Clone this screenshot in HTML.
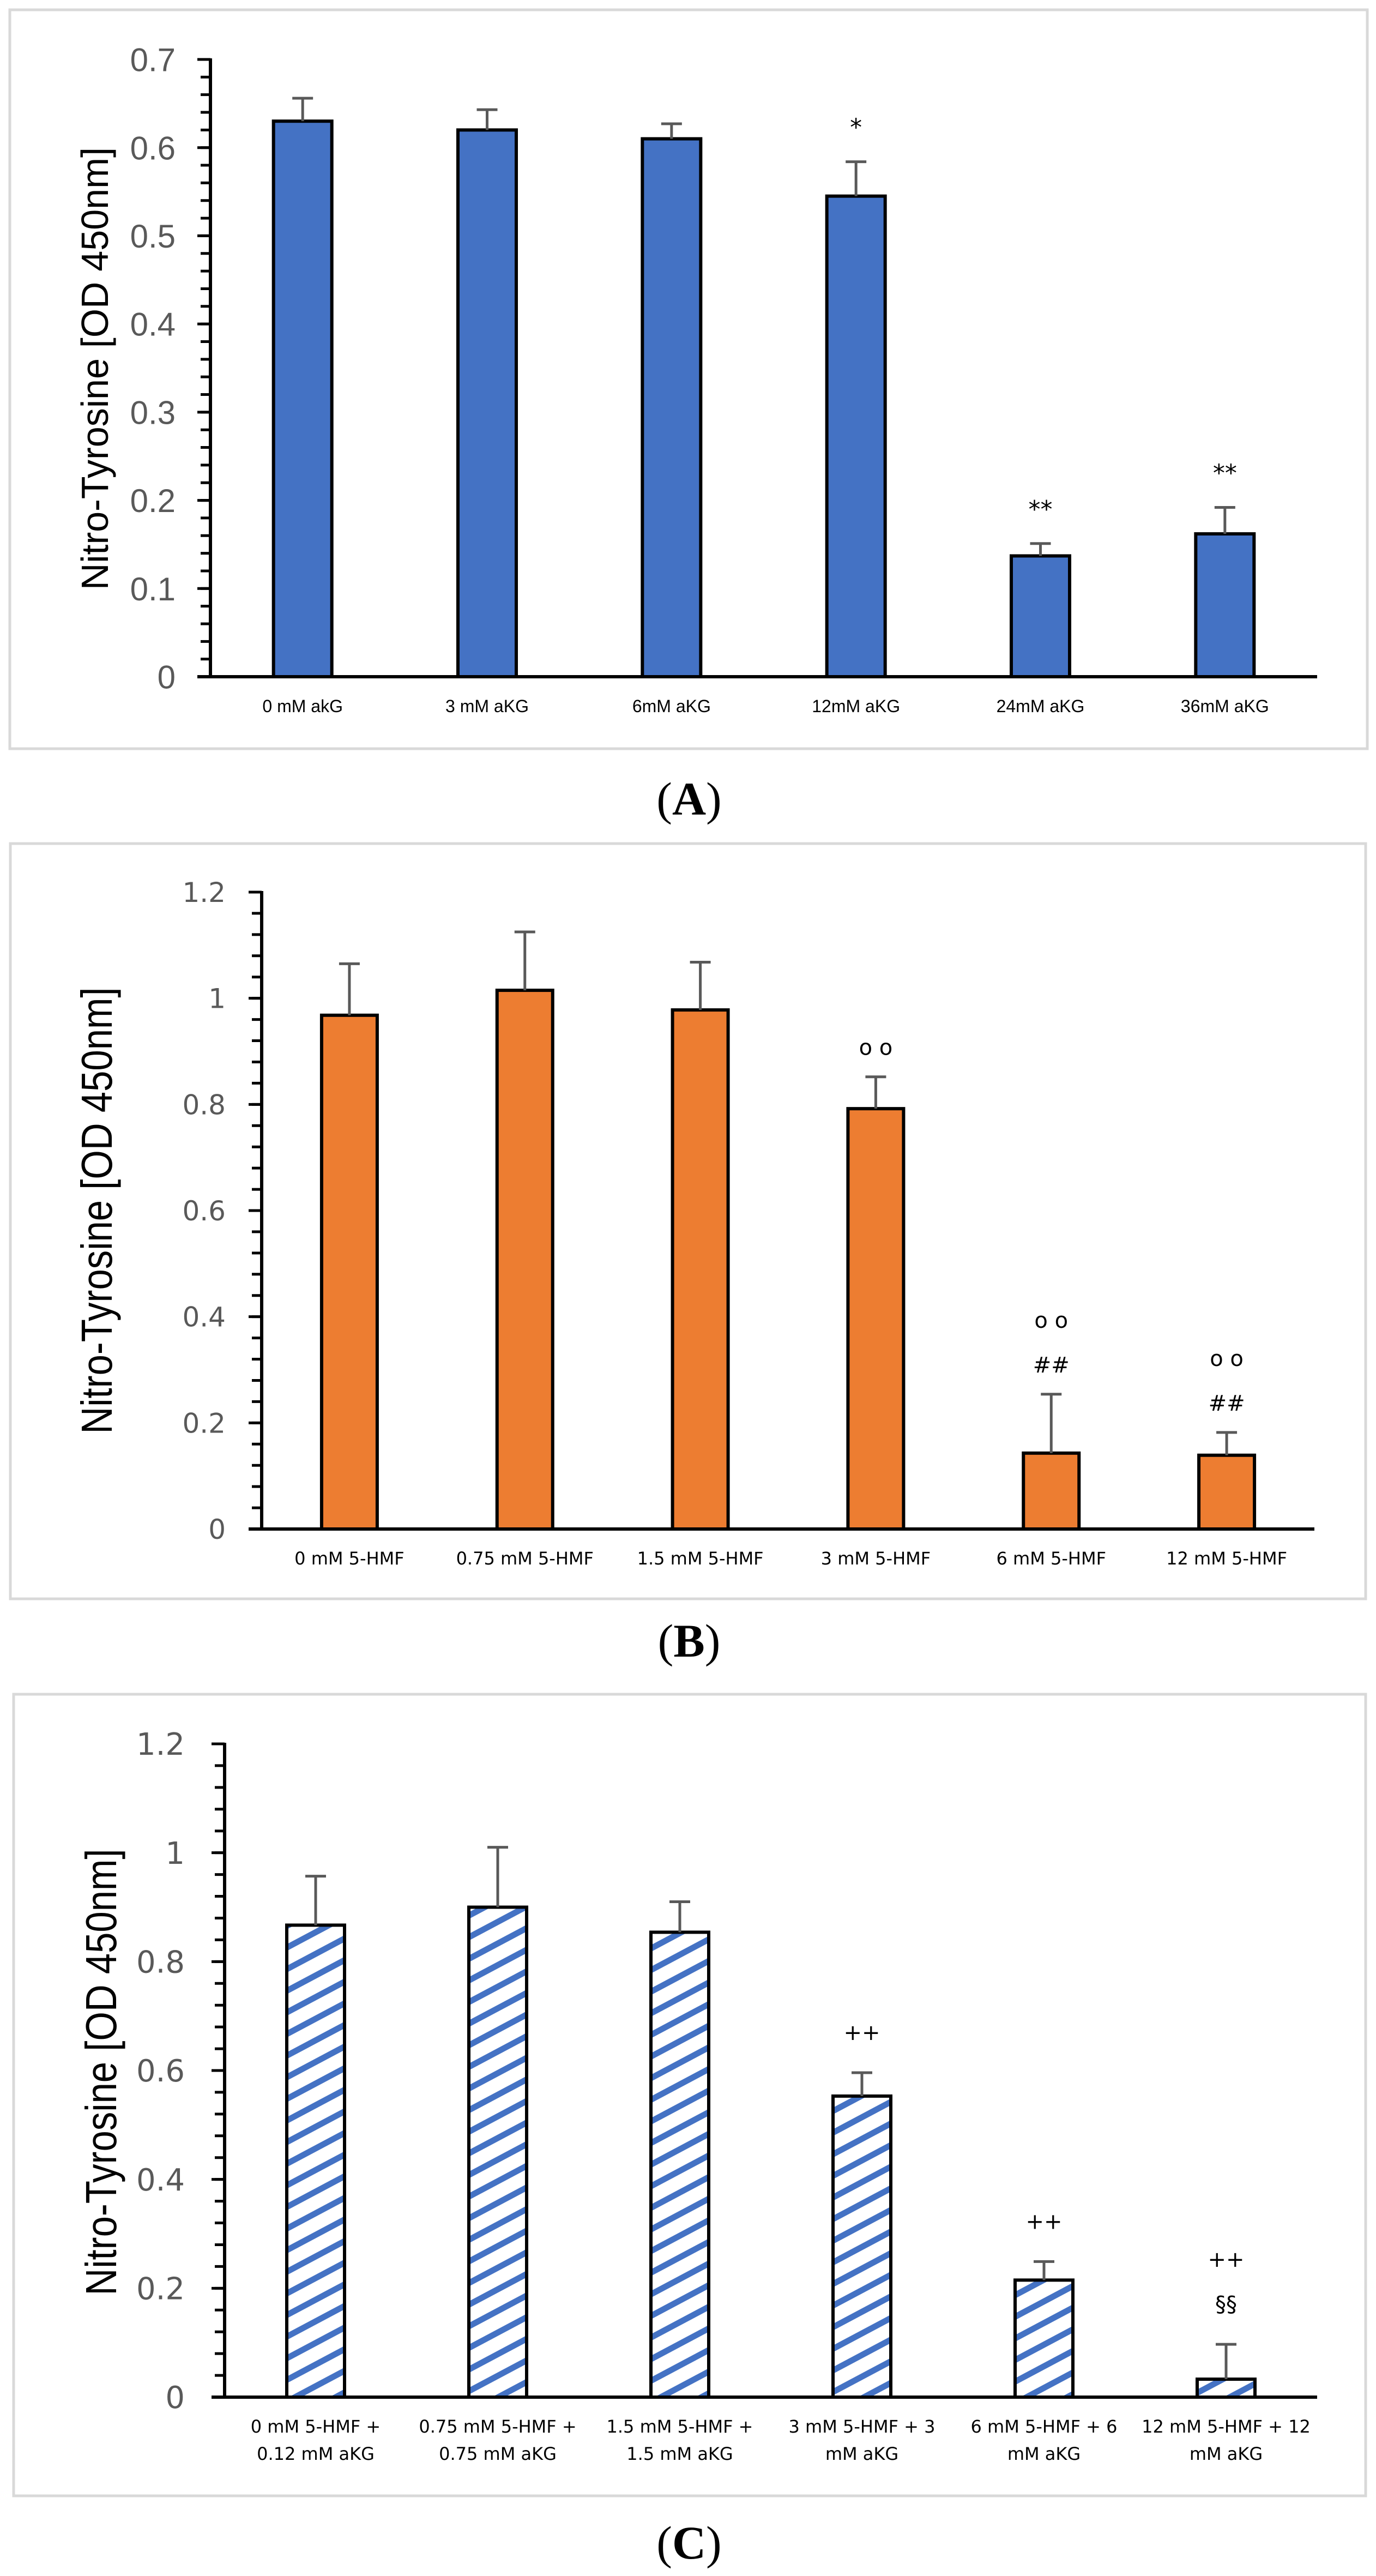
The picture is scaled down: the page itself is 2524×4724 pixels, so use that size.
<!DOCTYPE html>
<html><head><meta charset="utf-8"><style>
html,body{margin:0;padding:0;background:#fff;}
svg{display:block;}
</style></head><body>
<svg id="fig" xmlns="http://www.w3.org/2000/svg" width="2524" height="4724" viewBox="0 0 2524 4724">
<defs>
<pattern id="hatch" patternUnits="userSpaceOnUse" width="100" height="35" patternTransform="rotate(-28)">
<rect width="100" height="35" fill="#fff"/>
<rect y="0" width="100" height="11" fill="#4472c4"/>
</pattern>
</defs>
<rect x="18" y="18" width="2490" height="1355" fill="#fff" stroke="#d9d9d9" stroke-width="5"/>
<rect x="19" y="1547" width="2486" height="1385" fill="#fff" stroke="#d9d9d9" stroke-width="5"/>
<rect x="25" y="3107" width="2480" height="1470" fill="#fff" stroke="#d9d9d9" stroke-width="5"/>
<text x="1264" y="1494" text-anchor="middle" font-family="Liberation Serif, serif" font-size="86">(<tspan font-weight="bold">A</tspan>)</text>
<text x="1264" y="3038" text-anchor="middle" font-family="Liberation Serif, serif" font-size="86">(<tspan font-weight="bold">B</tspan>)</text>
<text x="1264" y="4692" text-anchor="middle" font-family="Liberation Serif, serif" font-size="86">(<tspan font-weight="bold">C</tspan>)</text>
<g id="gA"></g>
<g id="gB"></g>
<g id="gC"></g>
</svg>
<script>
// Panel A data
const aCategories = [["0 mM akG"],["3 mM aKG"],["6mM aKG"],["12mM aKG"],["24mM aKG"],["36mM aKG"]];
const aValues = [0.63, 0.62, 0.61, 0.545, 0.137, 0.162];
const aErrors = [0.026, 0.023, 0.017, 0.039, 0.014, 0.03];
const aMarks = [[],[],[],["*"],["**"],["**"]];
const aTicks = [0, 0.1, 0.2, 0.3, 0.4, 0.5, 0.6, 0.7];
const aTickLabels = ["0","0.1","0.2","0.3","0.4","0.5","0.6","0.7"];
// Panel B data
const bCategories = [["0 mM 5-HMF"],["0.75 mM 5-HMF"],["1.5 mM 5-HMF"],["3 mM 5-HMF"],["6 mM 5-HMF"],["12 mM 5-HMF"]];
const bValues = [0.968, 1.015, 0.978, 0.792, 0.143, 0.139];
const bErrors = [0.097, 0.11, 0.09, 0.06, 0.111, 0.043];
const bMarks = [[],[],[],["o o"],["##","o o"],["##","o o"]];
const bTicks = [0, 0.2, 0.4, 0.6, 0.8, 1, 1.2];
const bTickLabels = ["0","0.2","0.4","0.6","0.8","1","1.2"];
// Panel C data
const cCategories = [["0 mM 5-HMF +","0.12 mM aKG"],["0.75 mM 5-HMF +","0.75 mM aKG"],["1.5 mM 5-HMF +","1.5 mM aKG"],["3 mM 5-HMF + 3","mM aKG"],["6 mM 5-HMF + 6","mM aKG"],["12 mM 5-HMF + 12","mM aKG"]];
const cValues = [0.867, 0.9, 0.854, 0.553, 0.215, 0.033];
const cErrors = [0.09, 0.11, 0.056, 0.043, 0.034, 0.064];
const cMarks = [[],[],[],["++"],["++"],["§§","++"]];
const cTicks = [0, 0.2, 0.4, 0.6, 0.8, 1, 1.2];
const cTickLabels = ["0","0.2","0.4","0.6","0.8","1","1.2"];

const NS = "http://www.w3.org/2000/svg";
function mk(tag, attrs, parent){
  const e = document.createElementNS(NS, tag);
  for (const k in attrs) e.setAttribute(k, attrs[k]);
  parent.appendChild(e);
  return e;
}

function drawPanel(g, cats, vals, errs, marks, ticks, tickLabels, L){
  const yMax = ticks[ticks.length-1];
  const yScale = v => L.y0 - (v / yMax) * (L.y0 - L.yTop);
  const step = (L.xRight - L.x0) / cats.length;
  const xCenter = i => L.x0 + step * (i + 0.5);

  const nMinor = Math.round(yMax / L.minor);
  for (let k = 0; k <= nMinor; k++) {
    const v = k * L.minor;
    const t = mk("line", {x1: L.x0 - 18, x2: L.x0, y1: yScale(v), y2: yScale(v), stroke: "#000", "stroke-width": 5}, g);
    
    
  }
  ticks.forEach((v, i) => {
    const t = mk("line", {x1: L.x0 - 24, x2: L.x0, y1: yScale(v), y2: yScale(v), stroke: "#000", "stroke-width": 5}, g);
    
    
    const lb = mk("text", {x: L.tickX, y: yScale(v) + L.tickFont * 0.36, "text-anchor": "end", "font-family": L.tickFamily, "font-size": L.tickFont, fill: "#595959"}, g);
    lb.textContent = tickLabels[i];
    
    
  });
  vals.forEach((v, i) => {
    const cx = xCenter(i);
    const top = yScale(v);
    const bar = mk("rect", {x: cx - L.bw/2, y: top, width: L.bw, height: L.y0 - top, fill: L.fill, stroke: "#000", "stroke-width": 6}, g);
    
    
    const eTop = yScale(v + errs[i]);
    const el = mk("line", {x1: cx, x2: cx, y1: top, y2: eTop, stroke: "#595959", "stroke-width": 5}, g);
    
    
    const ec = mk("line", {x1: cx - 19, x2: cx + 19, y1: eTop, y2: eTop, stroke: "#595959", "stroke-width": 5}, g);
    
    
    marks[i].forEach((m, j) => {
      const my = eTop - L.markGap - j * L.markStep;
      const mt = mk("text", {x: cx, y: my, "text-anchor": "middle", "font-family": "DejaVu Sans, sans-serif", "font-size": L.markFont, fill: "#000"}, g);
      mt.textContent = m;
      
      
    });
    cats[i].forEach((line, j) => {
      const ct = mk("text", {x: cx, y: L.labelY + j * L.labelStep, "text-anchor": "middle", "font-family": L.labelFamily, "font-size": L.labelFont, fill: "#000"}, g);
      ct.textContent = line;
      
      
    });
  });
  const ya = mk("line", {x1: L.x0, x2: L.x0, y1: L.yTop - 2, y2: L.y0 + 2, stroke: "#000", "stroke-width": 6}, g);
  
  
  const xa = mk("line", {x1: L.x0 - 24, x2: L.xRight, y1: L.y0, y2: L.y0, stroke: "#000", "stroke-width": 6}, g);
  
  
  const tt = mk("text", {x: 0, y: 0, "text-anchor": "middle", "font-family": "Liberation Sans, sans-serif", "font-size": L.titleFont, fill: "#000", textLength: L.titleLen, lengthAdjust: "spacingAndGlyphs", transform: "translate(" + (L.titleX + L.titleFont*0.36) + "," + L.titleY + ") rotate(-90)"}, g);
  tt.textContent = "Nitro-Tyrosine [OD 450nm]";
  
  
}

drawPanel(document.getElementById("gA"), aCategories, aValues, aErrors, aMarks, aTicks, aTickLabels,
  {x0: 386, xRight: 2416, y0: 1241, yTop: 109, bw: 107, minor: 0.02, fill: "#4472c4",
   tickX: 322, tickFont: 60, tickFamily: "Liberation Sans, sans-serif",
   labelY: 1306, labelStep: 0, labelFont: 32, labelFamily: "Liberation Sans, sans-serif",
   markGap: 48, markStep: 80, markFont: 44,
   titleX: 173, titleY: 676, titleFont: 70, titleLen: 812});
drawPanel(document.getElementById("gB"), bCategories, bValues, bErrors, bMarks, bTicks, bTickLabels,
  {x0: 480, xRight: 2411, y0: 2804, yTop: 1636, bw: 102, minor: 0.04, fill: "#ed7d31",
   tickX: 414, tickFont: 50, tickFamily: "DejaVu Sans, sans-serif",
   labelY: 2869, labelStep: 0, labelFont: 32, labelFamily: "DejaVu Sans, sans-serif",
   markGap: 40, markStep: 82, markFont: 40,
   titleX: 176, titleY: 2220, titleFont: 80, titleLen: 819});
drawPanel(document.getElementById("gC"), cCategories, cValues, cErrors, cMarks, cTicks, cTickLabels,
  {x0: 412, xRight: 2416, y0: 4396, yTop: 3198, bw: 106, minor: 0.04, fill: "url(#hatch)",
   tickX: 339, tickFont: 56, tickFamily: "DejaVu Sans, sans-serif",
   labelY: 4461, labelStep: 50, labelFont: 32, labelFamily: "DejaVu Sans, sans-serif",
   markGap: 60, markStep: 82, markFont: 40,
   titleX: 184, titleY: 3800, titleFont: 80, titleLen: 819});
</script>
</body></html>
